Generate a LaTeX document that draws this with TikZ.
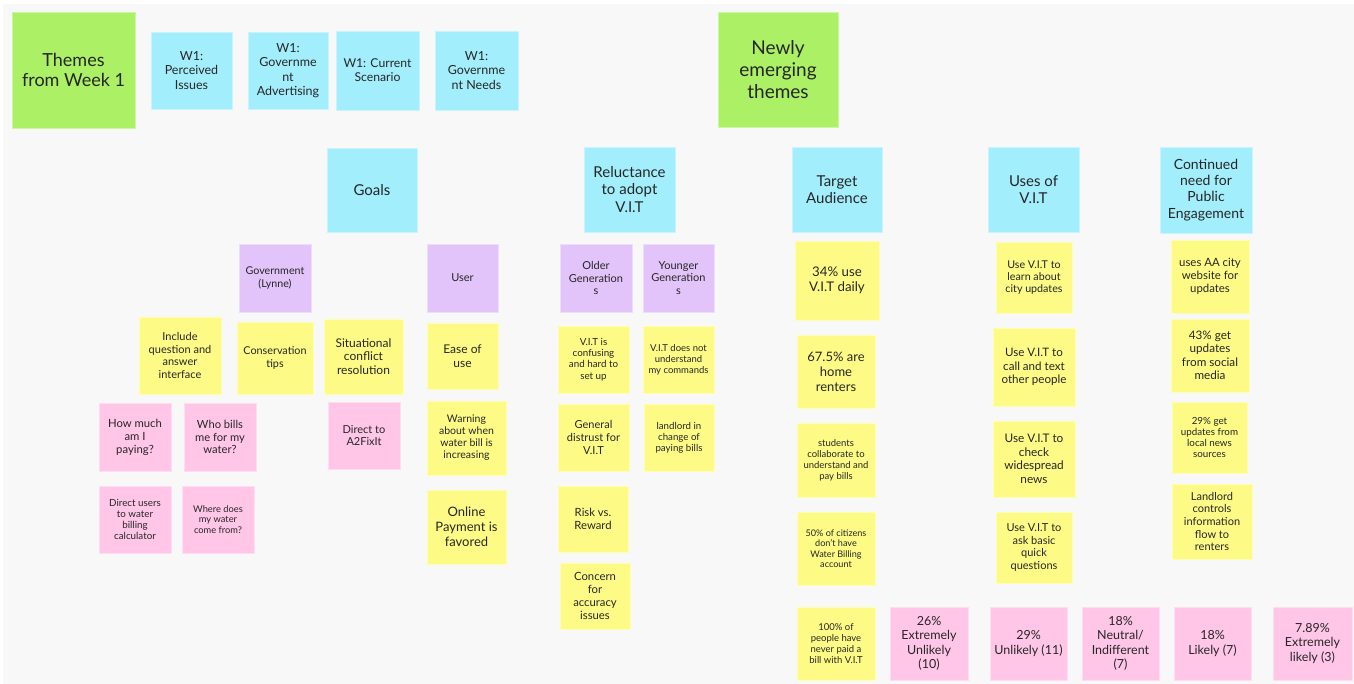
\documentclass[tikz,border=0pt]{standalone}
\usepackage{fontspec}
\setmainfont{Lato}
\definecolor{bgc}{RGB}{248,248,248}
\definecolor{grn}{RGB}{172,240,102}
\definecolor{blu}{RGB}{163,238,252}
\definecolor{pur}{RGB}{226,196,250}
\definecolor{yel}{RGB}{253,251,134}
\definecolor{pnk}{RGB}{255,198,232}
\definecolor{txt}{RGB}{38,38,38}
\newcommand\fsz[1]{\fontsize{#1pt}{\dimexpr#1pt*23/20\relax}\selectfont}
\newcommand\sticky[8]{%
  \node[#2, font=\fsz{#7}, minimum width={#5-#3}, minimum height={#6-#4}] (#1) at ({(#3+#5)/2},{(#4+#6)/2}) {#8};}
\tikzset{
  notebase/.style={rectangle, inner sep=0pt, align=center, text=txt, line width=0.6pt},
  gnote/.style={notebase, fill=grn, draw=grn!60!white},
  bnote/.style={notebase, fill=blu, draw=blu!60!white},
  vnote/.style={notebase, fill=pur, draw=pur!60!white},
  ynote/.style={notebase, fill=yel, draw=yel!60!white},
  pnote/.style={notebase, fill=pnk, draw=pnk!60!white},
}
\begin{document}
\begin{tikzpicture}[x=1pt,y=-1pt]
\useasboundingbox (0,0) rectangle (1354,684);
\fill[white] (0,0) rectangle (1354,684);
\fill[bgc] (3,4) rectangle (1354,684);
% header row
\sticky{themes}{gnote}{12}{12}{135}{128}{18}{Themes\\from Week 1}
\sticky{wperc}{bnote}{151}{32}{232}{109}{12.5}{W1:\\Perceived\\Issues}
\sticky{wadv}{bnote}{248}{32}{328}{109}{12.5}{W1:\\Governme\\nt\\Advertising}
\sticky{wcur}{bnote}{336}{31}{419}{110}{12.2}{W1: Current\\Scenario}
\sticky{wneed}{bnote}{435}{31}{518}{110}{12.5}{W1:\\Governme\\nt Needs}
\sticky{newly}{gnote}{718}{12}{838}{127}{19}{Newly\\emerging\\themes}
% category headers
\sticky{goals}{bnote}{327}{148}{417}{232}{15}{Goals}
\sticky{reluct}{bnote}{584}{147}{675}{232}{15}{Reluctance\\to adopt\\V.I.T}
\sticky{target}{bnote}{792}{147}{882}{232}{15}{Target\\Audience}
\sticky{uses}{bnote}{988}{147}{1079}{232}{15}{Uses of\\V.I.T}
\sticky{contd}{bnote}{1160}{147}{1252}{233}{14}{Continued\\need for\\Public\\Engagement}
% goals
\sticky{govt}{vnote}{239}{244}{311}{312}{10.7}{Government\\(Lynne)}
\sticky{user}{vnote}{427}{244}{498}{312}{11}{User}
\sticky{incl}{ynote}{139}{317}{221}{394}{11}{Include\\question and\\answer\\interface}
\sticky{cons}{ynote}{237}{322}{313}{394}{10.8}{Conservation\\tips}
\sticky{situ}{ynote}{324}{319}{403}{394}{12}{Situational\\conflict\\resolution}
\sticky{ease}{ynote}{427}{323}{498}{389}{12}{Ease of\\use}
\sticky{howmuch}{pnote}{99}{403}{171}{471}{11.3}{How much\\am I\\paying?}
\sticky{whobills}{pnote}{184}{403}{256}{471}{11.2}{Who bills\\me for my\\water?}
\sticky{afix}{pnote}{328}{402}{400}{469}{11}{Direct to\\A2FixIt}
\sticky{warn}{ynote}{427}{401}{506}{475}{10.5}{Warning\\about when\\water bill is\\increasing}
\sticky{calc}{pnote}{99}{486}{171}{553}{9.8}{Direct users\\to water\\billing\\calculator}
\sticky{where}{pnote}{182}{486}{254}{553}{9.3}{Where does\\my water\\come from?}
\sticky{online}{ynote}{427}{490}{506}{564}{13}{Online\\Payment is\\favored}
% reluctance
\sticky{older}{vnote}{560}{244}{632}{312}{11}{Older\\Generation\\s}
\sticky{younger}{vnote}{643}{244}{714}{312}{11}{Younger\\Generation\\s}
\sticky{confus}{ynote}{558}{326}{629}{393}{9.8}{V.I.T is\\confusing\\and hard to\\set up}
\sticky{notund}{ynote}{643}{326}{714}{393}{9.5}{V.I.T does not\\understand\\my commands}
\sticky{distr}{ynote}{558}{404}{629}{471}{11}{General\\distrust for\\V.I.T}
\sticky{landl}{ynote}{644}{404}{714}{471}{9.7}{landlord in\\change of\\paying bills}
\sticky{risk}{ynote}{558}{486}{628}{552}{11.3}{Risk vs.\\Reward}
\sticky{concern}{ynote}{560}{563}{630}{629}{11.3}{Concern\\for\\accuracy\\issues}
% target audience
\sticky{daily}{ynote}{795}{241}{879}{320}{13.3}{34\% use\\V.I.T daily}
\sticky{renters}{ynote}{797}{335}{875}{408}{13}{67.5\% are\\home\\renters}
\sticky{students}{ynote}{797}{423}{875}{497}{9.5}{students\\collaborate to\\understand and\\pay bills}
\sticky{billing}{ynote}{797}{512}{875}{585}{9.1}{50\% of citizens\\don't have\\Water Billing\\account}
\sticky{never}{ynote}{797}{607}{875}{680}{9.5}{100\% of\\people have\\never paid a\\bill with V.I.T}
% uses
\sticky{learn}{ynote}{996}{242}{1072}{313}{10.7}{Use V.I.T to\\learn about\\city updates}
\sticky{call}{ynote}{993}{328}{1075}{406}{11.6}{Use V.I.T to\\call and text\\other people}
\sticky{check}{ynote}{993}{421}{1075}{497}{11.8}{Use V.I.T to\\check\\widespread\\news}
\sticky{ask}{ynote}{996}{512}{1072}{583}{11}{Use V.I.T to\\ask basic\\quick\\questions}
% public engagement
\sticky{website}{ynote}{1171}{240}{1249}{313}{11.4}{uses AA city\\website for\\updates}
\sticky{social}{ynote}{1171}{319}{1249}{392}{11.7}{43\% get\\updates\\from social\\media}
\sticky{localnews}{ynote}{1172}{402}{1247}{473}{9.8}{29\% get\\updates from\\local news\\sources}
\sticky{flow}{ynote}{1172}{484}{1252}{559}{11}{Landlord\\controls\\information\\flow to\\renters}
% likelihood row
\sticky{extun}{pnote}{890}{607}{968}{680}{12.5}{26\%\\Extremely\\Unlikely\\(10)}
\sticky{unl}{pnote}{990}{607}{1067}{680}{12.5}{29\%\\Unlikely (11)}
\sticky{neut}{pnote}{1082}{607}{1159}{680}{12.5}{18\%\\Neutral/\\Indifferent\\(7)}
\sticky{lik}{pnote}{1174}{607}{1251}{680}{12.5}{18\%\\Likely (7)}
\sticky{extl}{pnote}{1273}{607}{1352}{680}{12.5}{7.89\%\\Extremely\\likely (3)}
\end{tikzpicture}
\end{document}
